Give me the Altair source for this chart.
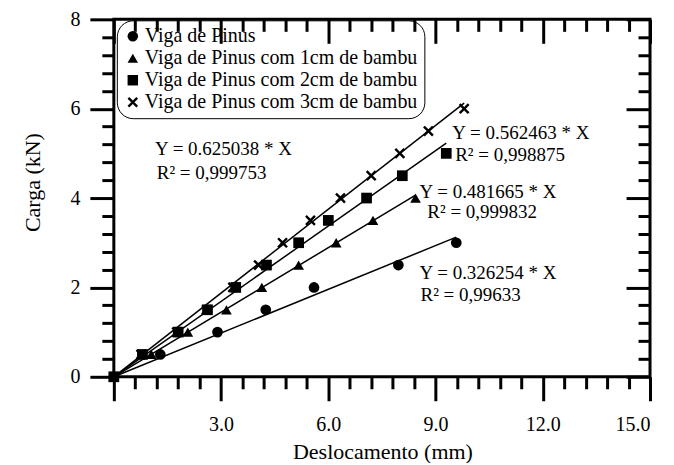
import altair as alt
import pandas as pd

# ---------------- data ----------------
series = [
    "Viga de Pinus",
    "Viga de Pinus com 1cm de bambu",
    "Viga de Pinus com 2cm de bambu",
    "Viga de Pinus com 3cm de bambu",
]
carga_pinus = [0, 0.5, 1.0, 1.5, 2.0, 2.5, 3.0]
desl_pinus = [0, 1.30, 2.90, 4.25, 5.60, 7.96, 9.58]

carga_1cm = [0, 0.5, 1.0, 1.5, 2.0, 2.5, 3.0, 3.5, 4.0]
desl_1cm = [0, 1.05, 2.07, 3.15, 4.14, 5.17, 6.22, 7.25, 8.44]

carga_2cm = [0, 0.5, 1.0, 1.5, 2.0, 2.5, 3.0, 3.5, 4.0, 4.5, 5.0]
desl_2cm = [0, 0.80, 1.80, 2.62, 3.41, 4.27, 5.17, 6.00, 7.07, 8.07, 9.30]

carga_3cm = [0, 0.5, 1.0, 1.5, 2.0, 2.5, 3.0, 3.5, 4.0, 4.5, 5.0, 5.5, 6.0]
desl_3cm = [0, 0.76, 1.76, 2.59, 3.33, 4.05, 4.72, 5.50, 6.34, 7.20, 8.00, 8.80, 9.80]

slopes = [0.326254, 0.481665, 0.562463, 0.625038]
r2_text = ["0,99633", "0,999832", "0,998875", "0,999753"]

# annotation anchor positions (data units)
eq_x = [8.55, 8.55, 9.47, 1.15]
eq_y = [2.32, 4.14, 5.45, 5.09]
r2_x = [8.58, 8.77, 9.55, 1.20]
r2_y = [1.83, 3.68, 4.96, 4.56]

# filled "X" outline so that it renders both in the plot and in the legend
X_SHAPE = ("M-1,-0.68L-0.68,-1L0,-0.32L0.68,-1L1,-0.68L0.32,0L1,0.68L0.68,1"
           "L0,0.32L-0.68,1L-1,0.68L-0.32,0Z")
shapes = ["circle", "triangle-up", "square", X_SHAPE]

x_major = [0, 3, 6, 9, 12, 15]
x_minor = [round(0.6 * k, 1) for k in range(1, 25) if k % 5 != 0]
y_major = [0, 2, 4, 6, 8]
y_minor = [round(0.4 * k, 1) for k in range(1, 20) if k % 5 != 0]

# ---------------- tables ----------------
cargas = [carga_pinus, carga_1cm, carga_2cm, carga_3cm]
desls = [desl_pinus, desl_1cm, desl_2cm, desl_3cm]

pts = pd.DataFrame(
    [{"serie": s, "desl": d, "carga": c}
     for s, cs, ds in zip(series, cargas, desls) for c, d in zip(cs, ds)]
)
fit = pd.DataFrame(
    [{"serie": s, "desl": d, "carga": k * d}
     for s, k, ds in zip(series, slopes, desls) for d in (0, max(ds))]
)
eq_df = pd.DataFrame(
    {"x": eq_x, "y": eq_y, "t": [f"Y = {k} * X" for k in slopes]}
)
r2_df = pd.DataFrame(
    {"x": r2_x, "y": r2_y, "t": [f"R\u00b2 = {r}" for r in r2_text]}
)

FONT = "Liberation Serif"
xs = alt.Scale(domain=[0, 15], nice=False, zero=False)
ys = alt.Scale(domain=[0, 8], nice=False, zero=False)


def ax(orient, values, size, offset=0, labels=False, **kw):
    return alt.Axis(orient=orient, values=values, tickSize=size, offset=offset,
                    labels=labels, domain=False, grid=False, tickWidth=3,
                    tickColor="black", labelFont=FONT, labelFontSize=20,
                    labelColor="black", titleFont=FONT, titleFontSize=22,
                    titleFontWeight="normal", titleColor="black", **kw)


# layer 1: fitted lines, bottom/left major axes with labels and titles
lines = alt.Chart(fit).mark_line(color="black", strokeWidth=1.5).encode(
    x=alt.X("desl:Q", scale=xs, title="Deslocamento (mm)",
            axis=ax("bottom", x_major, 24, labels=True,
                    labelExpr="datum.value == 0 ? '' : format(datum.value, '.1f')",
                    labelPadding=14, titleX=269, titleY=75,
                    titleBaseline="middle", titleAlign="center")),
    y=alt.Y("carga:Q", scale=ys, title="Carga (kN)",
            axis=ax("left", y_major, 24, labels=True, format="d",
                    labelPadding=10, titleX=-81, titleY=163,
                    titleBaseline="middle", titleAlign="center", titleAngle=270)),
    detail="serie:N",
)

# layer 2: points, minor bottom/left ticks
points = alt.Chart(pts).mark_point(
    filled=True, color="black", size=115, opacity=1
).encode(
    x=alt.X("desl:Q", scale=xs, title="", axis=ax("bottom", x_minor, 12)),
    y=alt.Y("carga:Q", scale=ys, title="", axis=ax("left", y_minor, 12)),
    shape=alt.Shape(
        "serie:N",
        scale=alt.Scale(domain=series, range=shapes),
        legend=alt.Legend(
            title=None, orient="none", legendX=3, legendY=1,
            strokeColor="black", cornerRadius=16, padding=6,
            labelFont=FONT, labelFontSize=20, labelLimit=500, labelColor="black",
            symbolSize=110, symbolFillColor="black", symbolStrokeColor="black",
            symbolStrokeWidth=0, symbolOpacity=1, rowPadding=2, labelOffset=2,
        ),
    ),
)

# layer 3: equations, top/right major ticks (inward)
eqs = alt.Chart(eq_df).mark_text(
    align="left", baseline="middle", font=FONT, fontSize=19, color="black"
).encode(
    x=alt.X("x:Q", scale=xs, title="", axis=ax("top", x_major, 24, offset=-24)),
    y=alt.Y("y:Q", scale=ys, title="", axis=ax("right", y_major, 24, offset=-24)),
    text="t:N",
)

# layer 4: R² texts, top/right minor ticks (inward)
r2s = alt.Chart(r2_df).mark_text(
    align="left", baseline="middle", font=FONT, fontSize=19, color="black"
).encode(
    x=alt.X("x:Q", scale=xs, title="", axis=ax("top", x_minor, 12, offset=-12)),
    y=alt.Y("y:Q", scale=ys, title="", axis=ax("right", y_minor, 12, offset=-12)),
    text="t:N",
)

chart = alt.layer(lines, points, eqs, r2s).resolve_scale(
    x="independent", y="independent"
).properties(
    width=537, height=358,
    background="white",
    autosize=alt.AutoSizeParams(type="none"),
    padding={"left": 106, "top": 11, "right": 16, "bottom": 86},
).configure_view(
    stroke="black", strokeWidth=3
)

chart.save("out.html", embed_options={"renderer": "svg", "actions": False})
